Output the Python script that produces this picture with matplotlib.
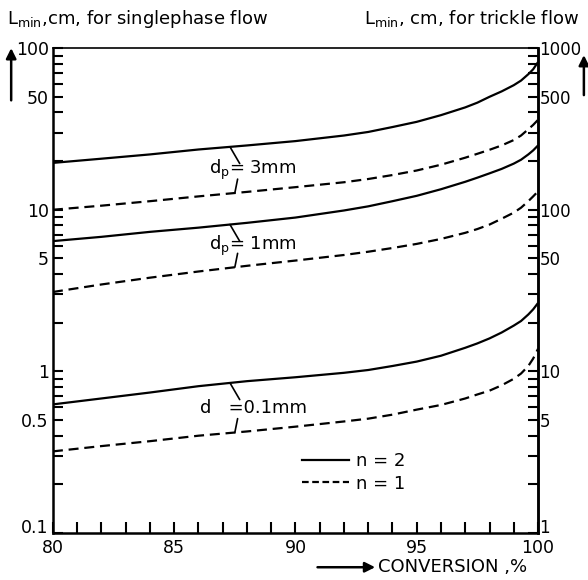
import numpy as np
import matplotlib
matplotlib.use("Agg")
import matplotlib.pyplot as plt
from matplotlib.patches import FancyArrowPatch
from matplotlib.lines import Line2D
from matplotlib.ticker import FixedLocator, NullFormatter

plt.rcParams["font.family"] = ["DejaVu Sans"]
plt.rcParams["mathtext.fontset"] = "dejavusans"

# conversion, %
conversion = [80, 82, 84, 86, 88, 90, 92, 93, 94, 95, 96, 97, 97.5, 98,
              98.5, 99, 99.3, 99.6, 99.8, 100]

# L_min, cm (single-phase scale); n = 2 solid, n = 1 dashed
dp3_n2 = [19.5, 20.7, 22.0, 23.6, 25.0, 26.6, 28.8, 30.3, 32.5, 35, 38.5,
          43, 46, 50, 54, 59, 63, 69, 74, 82]
dp3_n1 = [10, 10.6, 11.3, 12.1, 12.9, 13.8, 14.8, 15.5, 16.4, 17.5, 19, 21,
          22.2, 23.5, 25, 27, 28.8, 31.5, 33.5, 36]
dp1_n2 = [6.4, 6.8, 7.3, 7.75, 8.3, 8.95, 9.9, 10.5, 11.3, 12.2, 13.4, 14.9,
          15.8, 16.8, 17.9, 19.3, 20.4, 22, 23.3, 25]
dp1_n1 = [3.1, 3.45, 3.8, 4.15, 4.5, 4.85, 5.25, 5.5, 5.8, 6.15, 6.6, 7.2,
          7.6, 8.1, 8.8, 9.6, 10.3, 11.3, 12.1, 13]
dp01_n2 = [0.625, 0.68, 0.74, 0.81, 0.87, 0.92, 0.98, 1.02, 1.08, 1.15, 1.25,
           1.4, 1.49, 1.6, 1.74, 1.92, 2.05, 2.25, 2.42, 2.65]
dp01_n1 = [0.32, 0.345, 0.37, 0.40, 0.425, 0.455, 0.49, 0.51, 0.54, 0.58,
           0.62, 0.68, 0.72, 0.76, 0.82, 0.9, 0.97, 1.08, 1.2, 1.38]

left_ticks = [0.1, 0.5, 1, 5, 10, 50, 100]
left_labels = ["0.1", "0.5", "1", "5", "10", "50", "100"]
right_ticks = [1, 5, 10, 50, 100, 500, 1000]
right_labels = ["1", "5", "10", "50", "100", "500", "1000"]
x_ticks = [80, 85, 90, 95, 100]

fig = plt.figure(figsize=(5.88, 5.80), dpi=100)
ax = fig.add_axes([0.090, 0.081, 0.825, 0.836])

lw = 1.6
dash = (0, (4.5, 2.6))
pairs = [(dp3_n2, dp3_n1, r"d$_{\rm p}$= 3mm"),
         (dp1_n2, dp1_n1, r"d$_{\rm p}$= 1mm"),
         (dp01_n2, dp01_n1, "d   =0.1mm")]
for solid, dashed, label in pairs:
    ax.plot(conversion, solid, color="black", lw=lw, solid_capstyle="butt")
    ax.plot(conversion, dashed, color="black", lw=lw, linestyle=dash)

ax.set_yscale("log")
ax.set_xlim(80, 100)
ax.set_ylim(0.1, 100)

# labels between each pair of curves, with leader strokes to both curves
lx = 87.3
logc = np.log10
for solid, dashed, label in pairs:
    ys = 10 ** np.interp(lx, conversion, logc(solid))
    yd = 10 ** np.interp(lx + 0.2, conversion, logc(dashed))
    ym = np.sqrt(ys * yd)
    ax.text(lx + 0.95, ym, label, ha="center", va="center", fontsize=13)
    ax.annotate("", xy=(lx, ys), xytext=(7, -12), textcoords="offset points",
                arrowprops=dict(arrowstyle="-", lw=1.2, color="black",
                                shrinkA=0, shrinkB=0))
    ax.annotate("", xy=(lx + 0.2, yd), xytext=(2, 10), textcoords="offset points",
                arrowprops=dict(arrowstyle="-", lw=1.2, color="black",
                                shrinkA=0, shrinkB=0))

for s in ax.spines.values():
    s.set_linewidth(1.8)
ax.spines["top"].set_linewidth(1.2)

ax.yaxis.set_major_locator(FixedLocator(left_ticks))
ax.set_yticklabels(left_labels)
minor = [m * 10.0 ** e for e in range(-1, 2) for m in range(2, 10) if m != 5]
ax.yaxis.set_minor_locator(FixedLocator(minor))
ax.yaxis.set_minor_formatter(NullFormatter())
ax.set_xticks(x_ticks)
ax.set_xticks(np.arange(80, 101, 1), minor=True)
ax.tick_params(axis="both", which="both", direction="in", width=1.5,
               labelsize=12.5, top=False)
ax.tick_params(axis="y", which="major", length=7, pad=3)
ax.tick_params(axis="y", which="minor", length=7)
ax.tick_params(axis="x", which="both", length=8, pad=4)

ax2 = ax.twinx()
ax2.set_yscale("log")
ax2.set_ylim(1, 1000)
ax2.yaxis.set_major_locator(FixedLocator(right_ticks))
ax2.set_yticklabels(right_labels)
minor_r = [m * 10.0 ** e for e in range(0, 3) for m in range(2, 10) if m != 5]
ax2.yaxis.set_minor_locator(FixedLocator(minor_r))
ax2.yaxis.set_minor_formatter(NullFormatter())
ax2.tick_params(axis="y", which="both", direction="in", length=7, width=1.5,
                labelsize=12, pad=1)
for s in ax2.spines.values():
    s.set_visible(False)
ax2.spines["right"].set_visible(True)
ax2.spines["right"].set_linewidth(1.8)

# bottom-corner labels sit just above the x tick labels
ax.get_yticklabels()[0].set_verticalalignment("baseline")
ax2.get_yticklabels()[0].set_verticalalignment("baseline")

# legend for the exponent n
handles = [Line2D([], [], color="black", lw=lw),
           Line2D([], [], color="black", lw=lw, linestyle=(0, (3, 1.6)))]
ax.legend(handles, ["n = 2", "n = 1"], loc="lower left",
          bbox_to_anchor=(0.48, 0.05), frameon=False, fontsize=13,
          handlelength=2.6, handletextpad=0.4, labelspacing=0.25)

# axis titles and arrows
fig.text(0.012, 0.968, r"L$_{\rm min}$,cm, for singlephase flow",
         fontsize=13, ha="left", va="center")
fig.text(0.985, 0.968, r"L$_{\rm min}$, cm, for trickle flow",
         fontsize=13, ha="right", va="center")
fig.text(0.643, 0.022, "CONVERSION ,%", fontsize=13, ha="left", va="center")

for (x0, y0, x1, y1) in [(0.019, 0.827, 0.019, 0.917),
                         (0.993, 0.836, 0.993, 0.905),
                         (0.54, 0.022, 0.638, 0.022)]:
    fig.add_artist(FancyArrowPatch((x0, y0), (x1, y1),
                                   transform=fig.transFigure,
                                   arrowstyle="-|>,head_length=6,head_width=3",
                                   lw=1.8, color="black",
                                   shrinkA=0, shrinkB=0))

fig.savefig("out.png", dpi=100)
